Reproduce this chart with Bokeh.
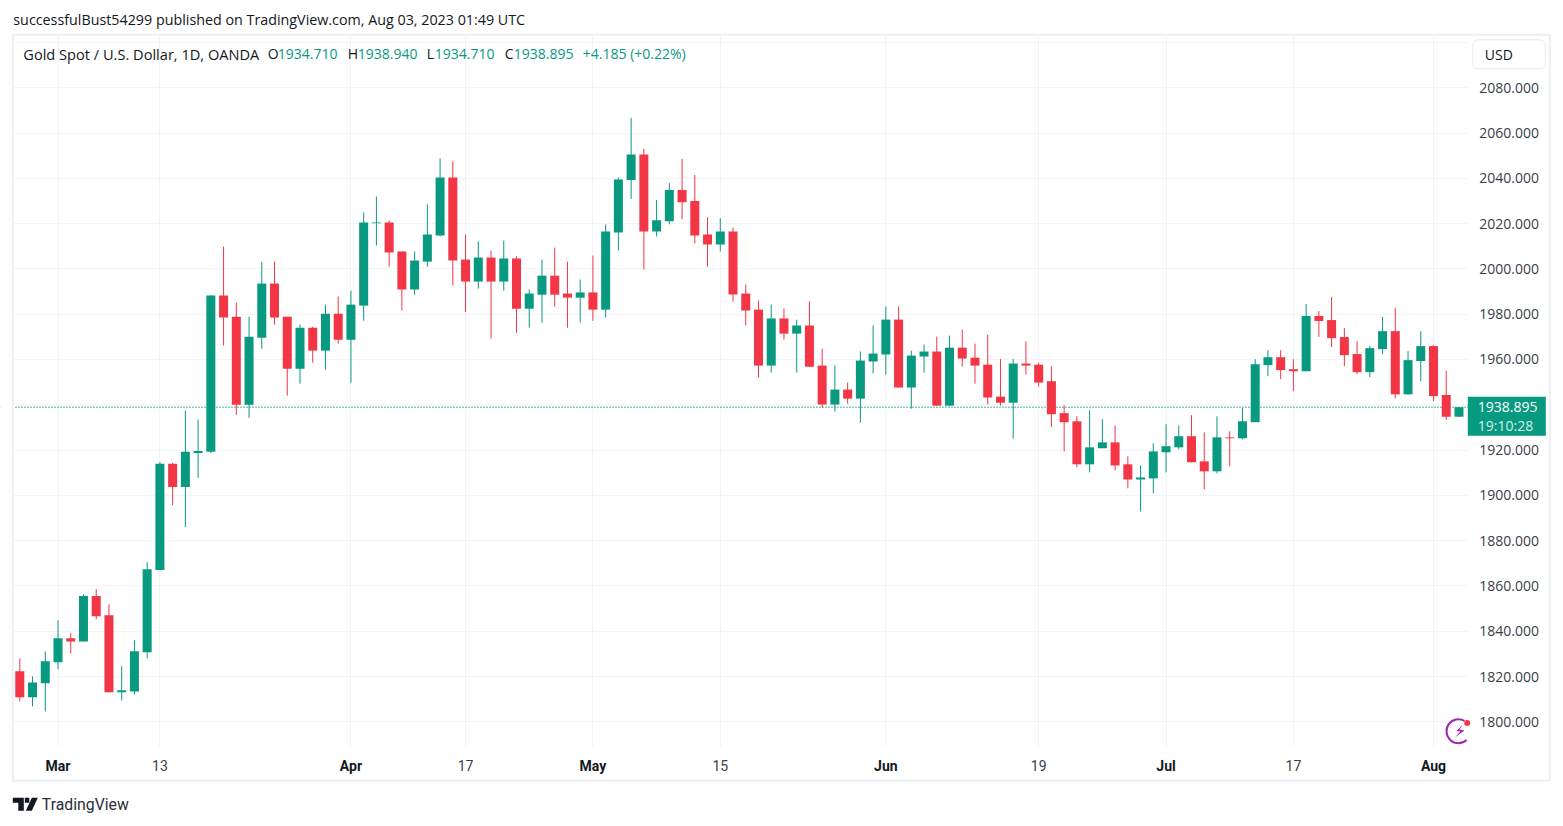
from bokeh.plotting import figure
from bokeh.models import (ColumnDataSource, FixedTicker, LinearAxis, Grid, Span, Label,
                          BoxAnnotation, PolyAnnotation, NumeralTickFormatter, Range1d)
from bokeh.embed import file_html
from bokeh.resources import INLINE

opens = [1822.3,1810.8,1817.0,1826.3,1836.9,1835.5,1855.5,1847.0,1813.0,1813.4,1830.7,1867.0,1913.9,1903.7,1918.7,1919.2,
 1988.2,1978.9,1940.0,1969.6,1993.5,1978.9,1955.9,1974.0,1963.9,1980.2,1968.7,1983.8,2020.1,2020.5,2007.7,1990.9,
 2003.2,2014.7,2040.4,2004.1,1994.4,2005.0,1994.4,2004.6,1982.4,1988.6,1997.0,1989.1,1987.3,1989.6,1982.0,2016.1,
 2039.3,2050.5,2016.5,2021.0,2034.8,2030.0,2015.2,2010.8,2016.5,1989.1,1982.0,1957.3,1978.1,1971.4,1975.0,1957.3,
 1940.1,1946.7,1942.7,1959.1,1962.2,1977.6,1947.6,1961.3,1963.5,1939.6,1965.2,1960.8,1957.7,1943.6,1940.9,1958.2,
 1957.7,1950.4,1936.3,1932.7,1913.7,1920.8,1923.4,1913.7,1907.0,1907.5,1919.0,1921.2,1926.1,1915.0,1910.6,1925.6,
 1925.2,1932.3,1957.5,1961.0,1955.7,1954.8,1979.2,1977.4,1969.9,1962.4,1954.4,1964.6,1972.5,1944.6,1959.3,1965.9,
 1944.3,1934.71]
highs = [1828.0,1820.1,1831.1,1844.8,1839.1,1856.3,1858.6,1851.9,1824.5,1836.0,1870.5,1914.7,1914.3,1937.5,1933.5,1988.4,
 2009.9,1985.1,1978.9,2003.2,2003.2,1978.9,1975.4,1974.5,1984.2,1987.8,1990.4,2024.9,2032.0,2021.4,2007.7,2007.7,
 2028.5,2048.8,2047.5,2015.2,2012.1,2008.1,2012.5,2005.5,1990.9,2004.1,2009.4,2003.2,1995.3,2005.9,2019.6,2040.4,
 2066.7,2053.1,2030.4,2037.9,2048.6,2041.5,2022.8,2022.4,2018.3,1993.1,1986.0,1984.2,1982.5,1977.6,1985.6,1964.8,
 1957.3,1949.8,1963.5,1975.0,1983.4,1983.4,1963.9,1966.6,1970.1,1970.5,1973.2,1967.0,1971.0,1960.2,1960.2,1967.9,
 1958.6,1957.0,1939.8,1934.9,1937.6,1933.6,1930.9,1917.2,1913.2,1923.0,1931.4,1930.9,1935.4,1927.8,1934.9,1928.3,
 1938.5,1960.1,1964.1,1964.1,1960.1,1984.5,1981.4,1987.6,1973.9,1968.1,1965.9,1978.8,1982.7,1963.7,1972.5,1966.3,
 1955.0,1938.94]
lows = [1809.1,1806.8,1804.6,1823.2,1830.2,1835.5,1845.3,1813.0,1809.4,1812.1,1828.0,1867.0,1895.7,1886.0,1907.7,1918.7,
 1966.1,1935.5,1934.2,1964.7,1975.4,1944.0,1949.3,1958.6,1955.5,1967.0,1949.7,1977.1,2010.3,2001.0,1981.6,1988.6,
 2001.0,2014.3,1992.6,1981.0,1991.3,1969.2,1990.4,1971.8,1974.0,1976.3,1983.3,1974.0,1976.3,1977.1,1978.5,2008.1,
 2030.9,1999.7,2014.3,2019.7,2021.9,2011.2,2001.0,2007.7,1985.5,1975.0,1952.0,1954.2,1968.8,1954.2,1956.8,1938.7,
 1937.0,1940.5,1932.1,1953.8,1953.3,1947.6,1938.3,1954.2,1939.6,1939.6,1956.8,1949.3,1940.1,1939.6,1925.0,1953.3,
 1948.0,1930.1,1919.4,1912.4,1910.1,1920.8,1911.0,1903.1,1892.9,1900.9,1910.1,1920.3,1914.6,1902.6,1909.7,1912.8,
 1924.7,1932.3,1952.6,1951.3,1946.0,1954.8,1969.9,1965.5,1957.0,1953.5,1952.2,1962.4,1942.8,1944.6,1950.4,1941.6,
 1933.3,1934.71]
closes = [1810.8,1817.4,1826.7,1836.9,1835.5,1855.5,1846.6,1813.0,1813.9,1831.1,1867.4,1913.9,1903.7,1919.2,1919.6,1988.2,
 1978.5,1940.0,1970.0,1993.5,1978.5,1955.9,1974.0,1963.9,1980.2,1968.7,1984.2,2020.5,2020.5,2007.2,1990.9,2003.7,
 2015.2,2040.4,2003.7,1994.4,2005.0,1994.4,2004.6,1982.4,1989.1,1997.0,1988.6,1987.3,1989.6,1982.0,2016.5,2039.5,
 2050.5,2016.5,2021.5,2034.8,2029.4,2014.7,2010.8,2016.5,1988.7,1981.6,1957.3,1978.1,1971.4,1975.0,1956.8,1940.1,
 1946.7,1942.7,1959.5,1962.6,1977.6,1947.6,1961.7,1963.5,1939.6,1965.2,1960.4,1957.3,1943.2,1940.9,1958.2,1957.3,
 1949.8,1935.8,1932.3,1913.7,1921.2,1923.4,1913.2,1907.0,1907.9,1919.4,1921.7,1926.1,1914.6,1910.6,1925.6,1925.2,
 1932.7,1957.9,1961.0,1955.3,1954.8,1979.2,1977.0,1969.4,1961.9,1954.4,1965.0,1972.5,1944.6,1959.7,1965.9,1943.8,
 1934.7,1938.895]

month_ticks = [3, 26, 45, 68, 90, 111]
month_labels = ["Mar", "Apr", "May", "Jun", "Jul", "Aug"]
day_ticks = [11, 35, 55, 80, 100]
day_labels = ["13", "17", "15", "19", "17"]
price_ticks = [1800,1820,1840,1860,1880,1900,1920,1960,1980,2000,2020,2040,2060,2080]
grid_prices = [1800,1820,1840,1860,1880,1900,1920,1940,1960,1980,2000,2020,2040,2060,2080,2100]
last_price = 1938.895

GREEN, RED, GRID, TEXT, BORDER = "#089981", "#F23645", "#F3F4F7", "#131722", "#EEEFF6"
FONT = "Open Sans"
AXFONT = "Open Sans"

idx = list(range(len(opens)))
colors = [GREEN if c >= o else RED for o, c in zip(opens, closes)]
tops = [max(o, c) for o, c in zip(opens, closes)]
bots = [min(o, c) for o, c in zip(opens, closes)]
src = ColumnDataSource(dict(x=idx, high=highs, low=lows, top=tops, bottom=bots, color=colors))

# The frame covers the whole canvas so that header, price tag and logo are not clipped.
W, H = 1560, 824
OFF = 0.7
FL, FR, FT, FB = 14, 1468, 36, 747
def X(px): return (px + OFF - 19.3) / 12.736
def Y(py): return 1800 + (721.3 - py - OFF) / 2.2646

p = figure(width=W, height=H, output_backend="svg", toolbar_location=None,
           x_range=Range1d(X(-OFF), X(W - OFF)), y_range=Range1d(Y(H - OFF), Y(-OFF)),
           min_border_left=0, min_border_right=0, min_border_top=0, min_border_bottom=0,
           x_axis_type=None, y_axis_type=None,
           background_fill_color="white", border_fill_color="white", outline_line_color=None)

def SX(px): return px - OFF
def SY(py): return H - py + OFF

def box(l, r, t, b, **kw):
    a = BoxAnnotation(left=SX(l), right=SX(r), top=SY(t), bottom=SY(b),
                      left_units="screen", right_units="screen", top_units="screen", bottom_units="screen", **kw)
    p.add_layout(a)
    return a

p.add_layout(Grid(dimension=0, ticker=FixedTicker(ticks=sorted(month_ticks + day_ticks)), grid_line_color=GRID, grid_line_width=1))
p.add_layout(Grid(dimension=1, ticker=FixedTicker(ticks=grid_prices), grid_line_color=GRID, grid_line_width=1))
p.add_layout(Span(location=last_price, dimension="width", line_color=GREEN, line_width=1.3, line_dash="1 2", level="underlay"))

# white masks limit grid and price line to the plot area
for l, r, t, b in [(0, FL, 0, H), (FR, W, 0, H), (0, W, 0, FT), (0, W, FB, H)]:
    box(l, r, t, b, fill_color="white", fill_alpha=1, line_color=None, level="underlay")

def style_x(ax):
    ax.axis_line_color = None
    ax.major_tick_line_color = None
    ax.minor_tick_line_color = None
    ax.major_label_text_font = "Roboto"
    ax.major_label_text_font_size = "14px"
    ax.major_label_text_color = TEXT

ax_day = LinearAxis(ticker=FixedTicker(ticks=day_ticks), fixed_location=Y(FB),
                    major_label_overrides=dict(zip(day_ticks, day_labels)),
                    major_label_standoff=6)
style_x(ax_day)
ax_day.major_label_text_color = "#3A3E4A"
p.add_layout(ax_day, "below")
ax_mon = LinearAxis(ticker=FixedTicker(ticks=month_ticks), fixed_location=Y(FB),
                    major_label_overrides=dict(zip(month_ticks, month_labels)),
                    major_label_standoff=4)
style_x(ax_mon)
ax_mon.major_label_text_font_style = "bold"
p.add_layout(ax_mon, "below")

ax_y = LinearAxis(ticker=FixedTicker(ticks=price_ticks), formatter=NumeralTickFormatter(format="0.000"),
                  fixed_location=X(FR), major_label_standoff=4)
ax_y.axis_line_color = None
ax_y.major_tick_line_color = None
ax_y.minor_tick_line_color = None
ax_y.major_label_text_font = AXFONT
ax_y.major_label_text_font_size = "14px"
ax_y.major_label_text_color = "#3A3E4A"
p.add_layout(ax_y, "right")

p.segment("x", "high", "x", "low", source=src, line_color="color", line_width=1)
p.vbar(x="x", width=0.707, top="top", bottom="bottom", source=src, fill_color="color", line_color=None)

# power icon
p.arc(x=[X(1457.3)], y=[Y(730)], radius=12, radius_units="screen", start_angle=1.05, end_angle=5.45,
      line_color="#9C27B0", line_width=2)
p.patch([X(a) for a in (1461.7, 1455, 1459.3, 1454, 1463.3, 1458.3)],
        [Y(b) for b in (723.3, 730, 730, 736, 729.3, 728.3)], fill_color="#9C27B0", line_color=None)
p.scatter([X(1466)], [Y(721.7)], size=6, fill_color=RED, line_color=None)

def text(px, py, s, color=TEXT, size="14px", style="normal", font=FONT):
    p.add_layout(Label(x=SX(px), y=SY(py), x_units="screen", y_units="screen", text=s, text_color=color,
                       text_font=font, text_font_size=size, text_font_style=style, text_baseline="middle"))

box(13, 1550, 35, 781, fill_alpha=0, line_color=BORDER, line_alpha=1, line_width=2)
box(1473, 1545.5, 40, 69, fill_color="white", fill_alpha=1, line_color="#E8EAF0", line_alpha=1, line_width=1, border_radius=5)
box(1468, 1546, 397, 436, fill_color=GREEN, fill_alpha=1, line_color=None)

text(13.5, 19.5, "successfulBust54299 published on TradingView.com, Aug 03, 2023 01:49 UTC", size="14.3px")
text(23.5, 54, "Gold Spot / U.S. Dollar, 1D, OANDA", size="14.6px")
for x, s, c in [(268, "O", TEXT), (278, "1934.710", GREEN), (348, "H", TEXT), (358, "1938.940", GREEN),
                (427, "L", TEXT), (435, "1934.710", GREEN), (505, "C", TEXT), (514, "1938.895", GREEN),
                (583, "+4.185 (+0.22%)", GREEN)]:
    text(x, 54, s, c)
text(1485, 54.5, "USD")
text(1478, 407.5, "1938.895", "#FFFFFF")
text(1478, 425.5, "19:10:28", "#D5EFEA")
text(42, 805, "TradingView", "#2A2E39", "15.8px", font="Roboto")

# TradingView logo
for xs, ys in [((13, 24, 24, 18.5, 18.5, 13), (798, 798, 811, 811, 803, 803)),
               ((32, 38, 32, 26), (798, 798, 811, 811)),
               ((25, 29.5, 29.5, 25), (798, 798, 803, 803))]:
    p.add_layout(PolyAnnotation(xs=[SX(a) for a in xs], ys=[SY(b) for b in ys], xs_units="screen", ys_units="screen",
                                fill_color="#131722", fill_alpha=1, line_color=None))

open("out.html", "w").write(file_html(p, INLINE))
